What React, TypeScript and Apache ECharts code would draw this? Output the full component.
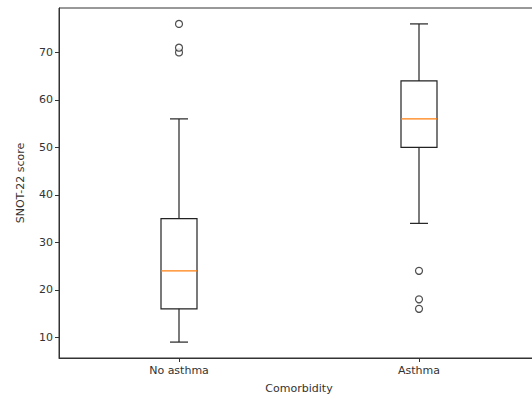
import React, { useEffect, useRef } from "react";
import * as echarts from "echarts";

const categories = ["No asthma", "Asthma"];
// [lowerWhisker, Q1, median, Q3, upperWhisker]
const boxStats = [
  [9, 16, 24, 35, 56],
  [34, 50, 56, 64, 76],
];
const outliersNoAsthma = [70, 71, 76];
const outliersAsthma = [16, 18, 24];
const yTicks = [10, 20, 30, 40, 50, 60, 70];

export default function App() {
  const ref = useRef<HTMLDivElement>(null);
  useEffect(() => {
    if (!ref.current) return;
    const chart = echarts.init(ref.current, null, { renderer: "svg" });
    const font = "DejaVu Sans";
    const textColor = "#333";
    const lineColor = "#333";
    const outlierData: number[][] = [
      ...outliersNoAsthma.map((v) => [0, v]),
      ...outliersAsthma.map((v) => [1, v]),
    ];
    chart.setOption({
      animation: false,
      backgroundColor: "#fff",
      grid: {
        left: 59,
        top: 8,
        width: 480,
        height: 350,
        show: true,
        borderColor: lineColor,
        borderWidth: 1,
        backgroundColor: "#fff",
        containLabel: false,
      },
      xAxis: {
        type: "category",
        data: categories,
        boundaryGap: true,
        name: "Comorbidity",
        nameLocation: "middle",
        nameGap: 25,
        nameTextStyle: { fontFamily: font, fontSize: 11, color: textColor },
        axisLine: { show: true, lineStyle: { color: lineColor, width: 1 } },
        axisTick: { show: true, alignWithLabel: true, length: 4, lineStyle: { color: lineColor } },
        axisLabel: { fontFamily: font, fontSize: 11, color: textColor, margin: 7 },
        splitLine: { show: false },
      },
      yAxis: {
        type: "value",
        min: 5.65,
        max: 79.35,
        name: "SNOT-22 score",
        nameLocation: "middle",
        nameGap: 33,
        nameTextStyle: { fontFamily: font, fontSize: 11, color: textColor },
        axisLine: { show: true, lineStyle: { color: lineColor, width: 1 } },
        axisTick: { show: true, length: 4, customValues: yTicks, lineStyle: { color: lineColor } },
        axisLabel: { fontFamily: font, fontSize: 11, color: textColor, margin: 6, customValues: yTicks },
        splitLine: { show: false },
      },
      series: [
        {
          type: "custom",
          data: boxStats.map((s, i) => [i, ...s]),
          encode: { x: 0, y: [1, 2, 3, 4, 5] },
          renderItem: (params: any, api: any) => {
            const idx = api.value(0);
            const lo = api.coord([idx, api.value(1)]);
            const q1 = api.coord([idx, api.value(2)]);
            const med = api.coord([idx, api.value(3)]);
            const q3 = api.coord([idx, api.value(4)]);
            const hi = api.coord([idx, api.value(5)]);
            const band = api.size([1, 0])[0];
            const bw = band * 0.15;
            const cx = lo[0];
            const stroke = { stroke: "#222", lineWidth: 1.2, fill: "none" };
            return {
              type: "group",
              children: [
                { type: "line", shape: { x1: cx, y1: lo[1], x2: cx, y2: q1[1] }, style: stroke },
                { type: "line", shape: { x1: cx, y1: q3[1], x2: cx, y2: hi[1] }, style: stroke },
                { type: "line", shape: { x1: cx - bw / 4, y1: lo[1], x2: cx + bw / 4, y2: lo[1] }, style: stroke },
                { type: "line", shape: { x1: cx - bw / 4, y1: hi[1], x2: cx + bw / 4, y2: hi[1] }, style: stroke },
                {
                  type: "rect",
                  shape: { x: cx - bw / 2, y: q3[1], width: bw, height: q1[1] - q3[1] },
                  style: { stroke: "#222", lineWidth: 1.2, fill: "none" },
                },
                {
                  type: "line",
                  shape: { x1: cx - bw / 2, y1: med[1], x2: cx + bw / 2, y2: med[1] },
                  style: { stroke: "#ff7f0e", lineWidth: 1.2 },
                },
              ],
            };
          },
        },
        {
          type: "scatter",
          data: outlierData,
          symbol: "circle",
          symbolSize: 7,
          itemStyle: { color: "#fff", borderColor: "#222", borderWidth: 1.2 },
        },
      ],
    });
    return () => chart.dispose();
  }, []);
  return (
    <div style={{ position: "fixed", left: 0, top: 0, width: 532, height: 400, overflow: "hidden" }}>
      <div ref={ref} style={{ width: 548, height: 400 }} />
    </div>
  );
}
